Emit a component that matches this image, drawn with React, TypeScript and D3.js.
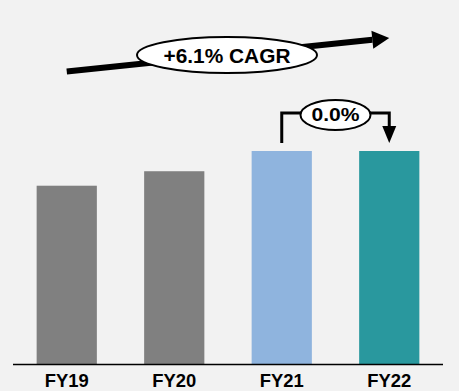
import React from "react";
import * as d3 from "d3";

const categories = ["FY19", "FY20", "FY21", "FY22"];
const values = [8.37, 9.05, 10.0, 10.0];
const barColors = ["#808080", "#808080", "#8FB4DE", "#29989E"];
const cagrLabel = "+6.1% CAGR";
const changeLabel = "0.0%";

const W = 459;
const H = 391;
const FONT = "'Liberation Sans', Arial, Helvetica, sans-serif";

export default function App() {
  const x = d3
    .scaleBand<string>()
    .domain(categories)
    .range([13, 443])
    .paddingInner(0.44)
    .paddingOuter(0.22);
  const y = d3.scaleLinear().domain([0, 10]).range([364, 151]);
  const cx = (c: string) => (x(c) as number) + x.bandwidth() / 2;

  // CAGR arrow
  const ax0 = cx(categories[0]);
  const ay0 = 71.5;
  const ax1 = cx(categories[3]);
  const ay1 = 38;
  const headLen = 17;
  const headHalf = 9;
  const ang = Math.atan2(ay1 - ay0, ax1 - ax0);
  const bx = ax1 - headLen * Math.cos(ang);
  const by = ay1 - headLen * Math.sin(ang);
  const px = -Math.sin(ang);
  const py = Math.cos(ang);
  const head = [
    [ax1, ay1],
    [bx + px * headHalf, by + py * headHalf],
    [bx - px * headHalf, by - py * headHalf],
  ];

  // bracket
  const lx = cx(categories[2]);
  const rx = cx(categories[3]);
  const topY = 113;
  const startY = y(values[2]) - 8;
  const tipY = y(values[3]) - 8;
  const midX = (lx + rx) / 2;

  return (
    <svg
      width={W}
      height={H}
      style={{ position: "absolute", left: 0, top: 0, background: "#F2F2F2" }}
    >
      <rect x={0} y={0} width={W} height={H} fill="#F2F2F2" />
      {categories.map((c, i) => (
        <rect
          key={c}
          x={x(c)}
          y={y(values[i])}
          width={x.bandwidth()}
          height={y(0) - y(values[i])}
          fill={barColors[i]}
        />
      ))}
      <line x1={13} x2={443} y1={364.5} y2={364.5} stroke="#000" strokeWidth={1.5} />
      {categories.map((c) => (
        <text
          key={c}
          x={cx(c)}
          y={387}
          textAnchor="middle"
          fontFamily={FONT}
          fontWeight="bold"
          fontSize={19}
          textLength={44}
          lengthAdjust="spacingAndGlyphs"
          fill="#000"
        >
          {c}
        </text>
      ))}

      {/* CAGR arrow */}
      <line x1={ax0} y1={ay0} x2={bx} y2={by} stroke="#000" strokeWidth={6} />
      <polygon points={head.map((p) => p.join(",")).join(" ")} fill="#000" />
      <ellipse cx={227} cy={55} rx={90} ry={18} fill="#fff" stroke="#000" strokeWidth={2} />
      <text
        x={227}
        y={62.8}
        textAnchor="middle"
        fontFamily={FONT}
        fontWeight="bold"
        fontSize={20}
        textLength={127}
        lengthAdjust="spacingAndGlyphs"
        fill="#000"
      >
        {cagrLabel}
      </text>

      {/* bracket */}
      <path
        d={`M${lx},${startY} V${topY} H${rx} V${tipY - 16}`}
        fill="none"
        stroke="#000"
        strokeWidth={3}
      />
      <polygon
        points={`${rx - 7},${tipY - 17} ${rx + 7},${tipY - 17} ${rx},${tipY}`}
        fill="#000"
      />
      <ellipse cx={midX} cy={115} rx={35} ry={15} fill="#fff" stroke="#000" strokeWidth={2} />
      <text
        x={midX}
        y={121}
        textAnchor="middle"
        fontFamily={FONT}
        fontWeight="bold"
        fontSize={18.5}
        textLength={48}
        lengthAdjust="spacingAndGlyphs"
        fill="#000"
      >
        {changeLabel}
      </text>
    </svg>
  );
}
